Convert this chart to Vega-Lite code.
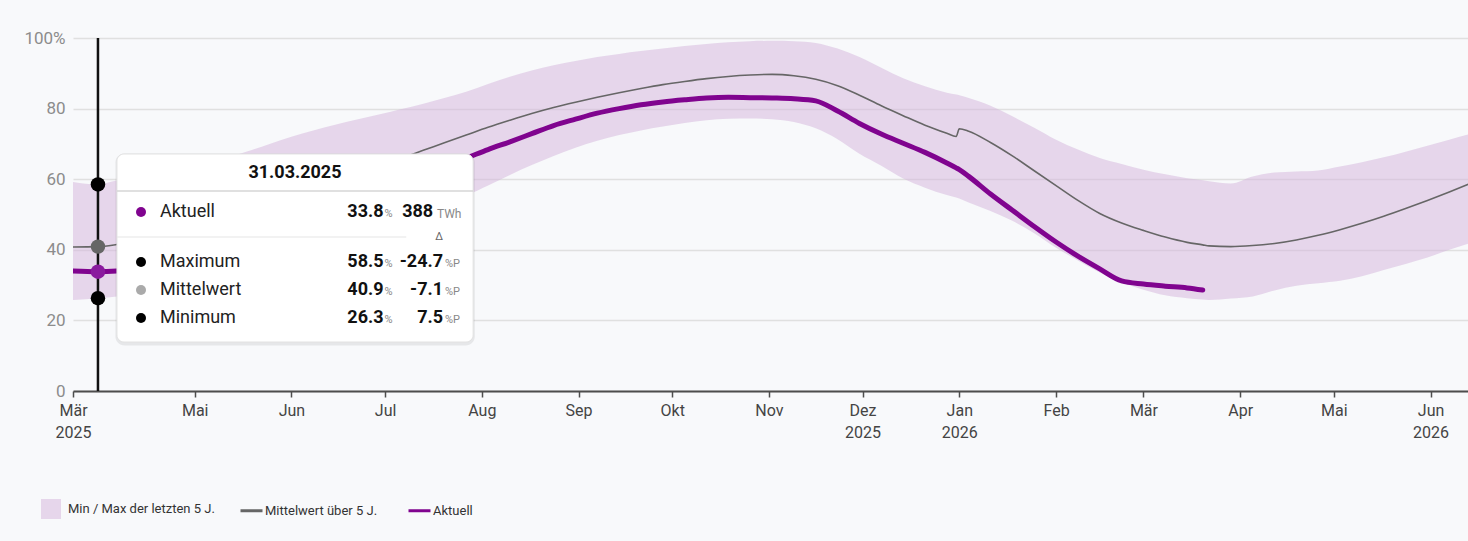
{
  "$schema": "https://vega.github.io/schema/vega-lite/v6.json",
  "width": 1395,
  "height": 353,
  "autosize": {"type": "none"},
  "padding": {"left": 73, "top": 38, "right": 0, "bottom": 150},
  "background": "#f8f9fb",
  "config": {
    "font": "Roboto",
    "view": {"stroke": null},
    "axisX": {"title": null, "grid": false, "domainColor": "#4d4d4d", "domainWidth": 2, "tickColor": "#4d4d4d", "tickWidth": 1.5, "tickSize": 6, "labelFontSize": 16, "labelColor": "#444444", "labelPadding": 5, "labelLineHeight": 22, "labelFlush": false, "labelOverlap": false, "labelBound": false},
    "axisY": {"title": null, "domain": false, "ticks": false, "gridColor": "#e0e0e0", "gridWidth": 1.5, "labelFontSize": 17, "labelColor": "#8c8c8c", "labelPadding": 8},
    "legend": {"labelFont": "Roboto", "labelFontSize": 13, "labelColor": "#333333", "labelOffset": 5, "columnPadding": 27}
  },
  "datasets": {
    "series": [
      {"date": "2025-03-23", "min": 25.8, "max": 59.2, "mean": 40.8, "cur": 34.0},
      {"date": "2025-03-31", "min": 26.3, "max": 58.5, "mean": 40.9, "cur": 33.8},
      {"date": "2025-04-06", "min": 26.8, "max": 59.6, "mean": 41.5, "cur": 34.0},
      {"date": "2025-04-13", "min": 27.5, "max": 60.4, "mean": 42.6, "cur": 34.6},
      {"date": "2025-04-20", "min": 28.5, "max": 61.4, "mean": 44.0, "cur": 35.6},
      {"date": "2025-04-27", "min": 30.0, "max": 62.6, "mean": 45.6, "cur": 37.0},
      {"date": "2025-05-04", "min": 31.8, "max": 64.2, "mean": 47.4, "cur": 38.7},
      {"date": "2025-05-11", "min": 33.8, "max": 66.0, "mean": 49.3, "cur": 40.6},
      {"date": "2025-05-18", "min": 35.8, "max": 67.9, "mean": 51.3, "cur": 42.6},
      {"date": "2025-05-25", "min": 37.8, "max": 70.0, "mean": 53.3, "cur": 44.8},
      {"date": "2025-06-01", "min": 39.8, "max": 72.0, "mean": 55.4, "cur": 47.2},
      {"date": "2025-06-08", "min": 41.8, "max": 73.8, "mean": 57.5, "cur": 49.6},
      {"date": "2025-06-15", "min": 43.8, "max": 75.4, "mean": 59.6, "cur": 52.0},
      {"date": "2025-06-22", "min": 45.8, "max": 76.9, "mean": 61.7, "cur": 54.4},
      {"date": "2025-06-29", "min": 47.8, "max": 78.3, "mean": 63.8, "cur": 56.8},
      {"date": "2025-07-06", "min": 49.6, "max": 79.8, "mean": 65.9, "cur": 59.1},
      {"date": "2025-07-13", "min": 51.4, "max": 81.3, "mean": 68.1, "cur": 61.4},
      {"date": "2025-07-20", "min": 53.3, "max": 83.0, "mean": 70.3, "cur": 63.7},
      {"date": "2025-07-27", "min": 55.4, "max": 84.8, "mean": 72.5, "cur": 66.0},
      {"date": "2025-08-03", "min": 58.2, "max": 87.0, "mean": 74.7, "cur": 68.4},
      {"date": "2025-08-10", "min": 61.2, "max": 89.0, "mean": 76.7, "cur": 70.6},
      {"date": "2025-08-17", "min": 64.0, "max": 90.8, "mean": 78.6, "cur": 72.9},
      {"date": "2025-08-24", "min": 66.6, "max": 92.3, "mean": 80.3, "cur": 75.2},
      {"date": "2025-08-31", "min": 68.9, "max": 93.5, "mean": 81.8, "cur": 77.0},
      {"date": "2025-09-07", "min": 70.9, "max": 94.6, "mean": 83.2, "cur": 78.7},
      {"date": "2025-09-14", "min": 72.5, "max": 95.5, "mean": 84.5, "cur": 80.0},
      {"date": "2025-09-21", "min": 73.8, "max": 96.3, "mean": 85.7, "cur": 81.1},
      {"date": "2025-09-28", "min": 74.9, "max": 97.0, "mean": 86.8, "cur": 81.9},
      {"date": "2025-10-05", "min": 75.9, "max": 97.7, "mean": 87.7, "cur": 82.5},
      {"date": "2025-10-12", "min": 76.7, "max": 98.3, "mean": 88.5, "cur": 83.0},
      {"date": "2025-10-19", "min": 77.1, "max": 98.8, "mean": 89.1, "cur": 83.2},
      {"date": "2025-10-26", "min": 77.2, "max": 99.1, "mean": 89.5, "cur": 83.1},
      {"date": "2025-11-02", "min": 77.0, "max": 99.2, "mean": 89.7, "cur": 83.0},
      {"date": "2025-11-09", "min": 76.2, "max": 99.1, "mean": 89.3, "cur": 82.8},
      {"date": "2025-11-16", "min": 74.4, "max": 98.6, "mean": 88.3, "cur": 82.2},
      {"date": "2025-11-23", "min": 71.3, "max": 97.0, "mean": 86.5, "cur": 79.3},
      {"date": "2025-11-30", "min": 67.2, "max": 94.6, "mean": 83.8, "cur": 75.8},
      {"date": "2025-12-07", "min": 63.8, "max": 91.6, "mean": 80.8, "cur": 72.8},
      {"date": "2025-12-14", "min": 60.2, "max": 88.6, "mean": 78.0, "cur": 70.2},
      {"date": "2025-12-21", "min": 57.6, "max": 86.3, "mean": 75.3, "cur": 67.6},
      {"date": "2025-12-28", "min": 55.5, "max": 84.5, "mean": 73.0, "cur": 64.6},
      {"date": "2025-12-31", "min": 54.8, "max": 84.0, "mean": 72.1, "cur": 63.2},
      {"date": "2026-01-01", "min": 54.5, "max": 83.8, "mean": 74.3, "cur": 62.7},
      {"date": "2026-01-04", "min": 53.4, "max": 83.0, "mean": 73.6, "cur": 60.8},
      {"date": "2026-01-11", "min": 51.0, "max": 80.8, "mean": 70.4, "cur": 55.8},
      {"date": "2026-01-18", "min": 48.2, "max": 77.8, "mean": 66.6, "cur": 51.2},
      {"date": "2026-01-25", "min": 44.7, "max": 74.6, "mean": 62.4, "cur": 46.6},
      {"date": "2026-02-01", "min": 40.6, "max": 71.2, "mean": 58.2, "cur": 42.2},
      {"date": "2026-02-08", "min": 37.0, "max": 68.4, "mean": 54.0, "cur": 38.2},
      {"date": "2026-02-15", "min": 33.6, "max": 66.0, "mean": 50.3, "cur": 34.6},
      {"date": "2026-02-22", "min": 30.8, "max": 64.3, "mean": 47.6, "cur": 31.2},
      {"date": "2026-03-01", "min": 28.7, "max": 62.7, "mean": 45.5, "cur": 30.3},
      {"date": "2026-03-08", "min": 27.1, "max": 61.4, "mean": 43.6, "cur": 29.7},
      {"date": "2026-03-15", "min": 26.3, "max": 60.3, "mean": 42.1, "cur": 29.2},
      {"date": "2026-03-20", "min": 25.9, "max": 59.7, "mean": 41.4, "cur": 28.6},
      {"date": "2026-03-22", "min": 25.8, "max": 59.4, "mean": 41.1},
      {"date": "2026-03-29", "min": 26.2, "max": 58.8, "mean": 40.9},
      {"date": "2026-04-05", "min": 26.8, "max": 60.8, "mean": 41.2},
      {"date": "2026-04-12", "min": 28.5, "max": 61.9, "mean": 41.8},
      {"date": "2026-04-19", "min": 29.8, "max": 62.2, "mean": 42.8},
      {"date": "2026-04-26", "min": 30.5, "max": 62.5, "mean": 44.1},
      {"date": "2026-05-03", "min": 31.2, "max": 63.6, "mean": 45.7},
      {"date": "2026-05-10", "min": 32.5, "max": 64.8, "mean": 47.5},
      {"date": "2026-05-17", "min": 34.3, "max": 66.2, "mean": 49.5},
      {"date": "2026-05-24", "min": 36.0, "max": 67.8, "mean": 51.7},
      {"date": "2026-05-31", "min": 37.8, "max": 69.5, "mean": 54.0},
      {"date": "2026-06-07", "min": 40.0, "max": 71.2, "mean": 56.4},
      {"date": "2026-06-14", "min": 42.0, "max": 72.9, "mean": 58.9}
    ],
    "hover": [
      {"date": "2025-03-31", "day": "31.03.2025", "cur": 33.8, "max": 58.5, "mean": 40.9, "min": 26.3, "twh": 388, "dmax": -24.7, "dmean": -7.1, "dmin": 7.5}
    ]
  },
  "data": {"name": "series"},
  "layer": [
    {
      "mark": {"type": "area", "opacity": 0.5, "interpolate": "monotone", "clip": true},
      "encoding": {
        "x": {"field": "date", "type": "temporal", "title": null,
          "scale": {"type": "utc", "domain": [{"year": 2025, "month": 3, "date": 23, "utc": true}, {"year": 2026, "month": 6, "date": 13, "utc": true}]},
          "axis": {
            "values": [
              {"year": 2025, "month": 3, "date": 23, "utc": true},
              {"year": 2025, "month": 5, "date": 1, "utc": true},
              {"year": 2025, "month": 6, "date": 1, "utc": true},
              {"year": 2025, "month": 7, "date": 1, "utc": true},
              {"year": 2025, "month": 8, "date": 1, "utc": true},
              {"year": 2025, "month": 9, "date": 1, "utc": true},
              {"year": 2025, "month": 10, "date": 1, "utc": true},
              {"year": 2025, "month": 11, "date": 1, "utc": true},
              {"year": 2025, "month": 12, "date": 1, "utc": true},
              {"year": 2026, "month": 1, "date": 1, "utc": true},
              {"year": 2026, "month": 2, "date": 1, "utc": true},
              {"year": 2026, "month": 3, "date": 1, "utc": true},
              {"year": 2026, "month": 4, "date": 1, "utc": true},
              {"year": 2026, "month": 5, "date": 1, "utc": true},
              {"year": 2026, "month": 6, "date": 1, "utc": true}
            ],
            "labelExpr": "[['Jan','Feb','Mär','Apr','Mai','Jun','Jul','Aug','Sep','Okt','Nov','Dez'][utcmonth(datum.value)], (utcmonth(datum.value) == 11 || utcmonth(datum.value) == 0 || (utcyear(datum.value) == 2025 && utcmonth(datum.value) == 2) || (utcyear(datum.value) == 2026 && utcmonth(datum.value) == 5)) ? '' + utcyear(datum.value) : '']"
          }
        },
        "y": {"field": "max", "type": "quantitative", "title": null,
          "scale": {"domain": [0, 100], "nice": false},
          "axis": {"values": [0, 20, 40, 60, 80, 100], "labelExpr": "datum.value == 100 ? '100%' : datum.label"}
        },
        "y2": {"field": "min"},
        "fill": {
          "datum": "Min / Max der letzten 5 J.", "type": "nominal",
          "scale": {"domain": ["Min / Max der letzten 5 J."], "range": ["#d3b3dc"]},
          "legend": {"orient": "none", "legendX": -33, "legendY": 460, "title": null, "symbolType": "square", "symbolSize": 400, "labelOffset": 6}
        }
      }
    },
    {
      "mark": {"type": "line", "strokeWidth": 1.6, "interpolate": "monotone", "clip": true},
      "encoding": {
        "x": {"field": "date", "type": "temporal", "title": null},
        "y": {"field": "mean", "type": "quantitative", "title": null},
        "stroke": {
          "datum": "Mittelwert über 5 J.", "type": "nominal",
          "scale": {"domain": ["Mittelwert über 5 J.", "Aktuell"], "range": ["#666666", "#80048f"]},
          "legend": {"orient": "none", "legendX": 166, "legendY": 460, "direction": "horizontal", "title": null, "symbolType": "stroke", "symbolSize": 484, "symbolStrokeWidth": 3, "labelOffset": 1, "columnPadding": 24}
        }
      }
    },
    {
      "mark": {"type": "line", "strokeWidth": 5, "strokeCap": "round", "strokeJoin": "round", "interpolate": "monotone", "clip": true},
      "encoding": {
        "x": {"field": "date", "type": "temporal", "title": null},
        "y": {"field": "cur", "type": "quantitative", "title": null},
        "stroke": {"datum": "Aktuell", "type": "nominal"}
      }
    },
    {
      "data": {"name": "hover"},
      "mark": {"type": "rule", "color": "#111111", "strokeWidth": 2.5},
      "encoding": {"x": {"field": "date", "type": "temporal", "title": null}}
    },
    {
      "data": {"name": "hover"},
      "mark": {"type": "circle", "size": 210, "opacity": 1, "color": "#000000"},
      "encoding": {"x": {"field": "date", "type": "temporal", "title": null}, "y": {"field": "max", "type": "quantitative", "title": null}}
    },
    {
      "data": {"name": "hover"},
      "mark": {"type": "circle", "size": 210, "opacity": 1, "color": "#666666"},
      "encoding": {"x": {"field": "date", "type": "temporal", "title": null}, "y": {"field": "mean", "type": "quantitative", "title": null}}
    },
    {
      "data": {"name": "hover"},
      "mark": {"type": "circle", "size": 210, "opacity": 1, "color": "#000000"},
      "encoding": {"x": {"field": "date", "type": "temporal", "title": null}, "y": {"field": "min", "type": "quantitative", "title": null}}
    },
    {
      "data": {"name": "hover"},
      "mark": {"type": "circle", "size": 210, "opacity": 1, "color": "#8a1a9e"},
      "encoding": {"x": {"field": "date", "type": "temporal", "title": null}, "y": {"field": "cur", "type": "quantitative", "title": null}}
    },
    {
      "data": {"name": "hover"},
      "mark": {"type": "rect", "fill": "#000000", "opacity": 0.07, "cornerRadius": 9},
      "encoding": {
        "x": {"datum": {"year": 2025, "month": 4, "date": 5, "hours": 14, "utc": true}, "type": "temporal", "title": null},
        "x2": {"datum": {"year": 2025, "month": 7, "date": 29, "hours": 18, "utc": true}},
        "y": {"datum": 67.3, "type": "quantitative", "title": null},
        "y2": {"datum": 12.9}
      }
    },
    {
      "data": {"name": "hover"},
      "mark": {"type": "rect", "fill": "#ffffff", "stroke": "#e2e2e2", "strokeWidth": 1, "cornerRadius": 7},
      "encoding": {
        "x": {"datum": {"year": 2025, "month": 4, "date": 6, "hours": 2, "utc": true}, "type": "temporal", "title": null},
        "x2": {"datum": {"year": 2025, "month": 7, "date": 29, "hours": 5, "utc": true}},
        "y": {"datum": 67.14, "type": "quantitative", "title": null},
        "y2": {"datum": 13.88}
      }
    },
    {
      "data": {"name": "hover"},
      "mark": {"type": "rule", "color": "#d6d6d6", "strokeWidth": 1.5},
      "encoding": {
        "x": {"datum": {"year": 2025, "month": 4, "date": 6, "hours": 2, "utc": true}, "type": "temporal", "title": null},
        "x2": {"datum": {"year": 2025, "month": 7, "date": 29, "hours": 5, "utc": true}},
        "y": {"datum": 56.66, "type": "quantitative", "title": null}
      }
    },
    {
      "data": {"name": "hover"},
      "mark": {"type": "rule", "color": "#e6e6e6", "strokeWidth": 1.2},
      "encoding": {
        "x": {"datum": {"year": 2025, "month": 4, "date": 6, "hours": 2, "utc": true}, "type": "temporal", "title": null},
        "x2": {"datum": {"year": 2025, "month": 7, "date": 7, "hours": 19, "utc": true}},
        "y": {"datum": 43.63, "type": "quantitative", "title": null}
      }
    },
    {
      "data": {"name": "hover"},
      "mark": {"type": "text", "align": "center", "baseline": "middle", "fontSize": 18, "fontWeight": "bold", "color": "#111111"},
      "encoding": {
        "x": {"datum": {"year": 2025, "month": 6, "date": 2, "hours": 3, "utc": true}, "type": "temporal", "title": null},
        "y": {"datum": 61.76, "type": "quantitative", "title": null},
        "text": {"field": "day", "type": "nominal"}
      }
    },
    {
      "data": {"name": "hover"},
      "mark": {"type": "circle", "size": 100, "opacity": 1, "color": "#80048f"},
      "encoding": {
        "x": {"datum": {"year": 2025, "month": 4, "date": 13, "hours": 19, "utc": true}, "type": "temporal", "title": null},
        "y": {"datum": 50.71, "type": "quantitative", "title": null}
      }
    },
    {
      "data": {"name": "hover"},
      "mark": {"type": "circle", "size": 100, "opacity": 1, "color": "#000000"},
      "encoding": {
        "x": {"datum": {"year": 2025, "month": 4, "date": 13, "hours": 19, "utc": true}, "type": "temporal", "title": null},
        "y": {"datum": 36.54, "type": "quantitative", "title": null}
      }
    },
    {
      "data": {"name": "hover"},
      "mark": {"type": "circle", "size": 100, "opacity": 1, "color": "#aaaaaa"},
      "encoding": {
        "x": {"datum": {"year": 2025, "month": 4, "date": 13, "hours": 19, "utc": true}, "type": "temporal", "title": null},
        "y": {"datum": 28.61, "type": "quantitative", "title": null}
      }
    },
    {
      "data": {"name": "hover"},
      "mark": {"type": "circle", "size": 100, "opacity": 1, "color": "#000000"},
      "encoding": {
        "x": {"datum": {"year": 2025, "month": 4, "date": 13, "hours": 19, "utc": true}, "type": "temporal", "title": null},
        "y": {"datum": 20.68, "type": "quantitative", "title": null}
      }
    },
    {
      "data": {"name": "hover"},
      "mark": {"type": "text", "align": "left", "baseline": "middle", "fontSize": 18, "color": "#222222", "text": "Aktuell"},
      "encoding": {
        "x": {"datum": {"year": 2025, "month": 4, "date": 19, "hours": 21, "utc": true}, "type": "temporal", "title": null},
        "y": {"datum": 50.71, "type": "quantitative", "title": null}
      }
    },
    {
      "data": {"name": "hover"},
      "mark": {"type": "text", "align": "left", "baseline": "middle", "fontSize": 18, "color": "#222222", "text": "Maximum"},
      "encoding": {
        "x": {"datum": {"year": 2025, "month": 4, "date": 19, "hours": 21, "utc": true}, "type": "temporal", "title": null},
        "y": {"datum": 36.54, "type": "quantitative", "title": null}
      }
    },
    {
      "data": {"name": "hover"},
      "mark": {"type": "text", "align": "left", "baseline": "middle", "fontSize": 18, "color": "#222222", "text": "Mittelwert"},
      "encoding": {
        "x": {"datum": {"year": 2025, "month": 4, "date": 19, "hours": 21, "utc": true}, "type": "temporal", "title": null},
        "y": {"datum": 28.61, "type": "quantitative", "title": null}
      }
    },
    {
      "data": {"name": "hover"},
      "mark": {"type": "text", "align": "left", "baseline": "middle", "fontSize": 18, "color": "#222222", "text": "Minimum"},
      "encoding": {
        "x": {"datum": {"year": 2025, "month": 4, "date": 19, "hours": 21, "utc": true}, "type": "temporal", "title": null},
        "y": {"datum": 20.68, "type": "quantitative", "title": null}
      }
    },
    {
      "data": {"name": "hover"},
      "mark": {"type": "text", "align": "right", "baseline": "middle", "fontSize": 18, "fontWeight": "bold", "color": "#111111"},
      "encoding": {
        "x": {"datum": {"year": 2025, "month": 6, "date": 30, "hours": 12, "utc": true}, "type": "temporal", "title": null},
        "y": {"datum": 50.71, "type": "quantitative", "title": null},
        "text": {"field": "cur", "type": "nominal"}
      }
    },
    {
      "data": {"name": "hover"},
      "mark": {"type": "text", "align": "right", "baseline": "middle", "fontSize": 18, "fontWeight": "bold", "color": "#111111"},
      "encoding": {
        "x": {"datum": {"year": 2025, "month": 6, "date": 30, "hours": 12, "utc": true}, "type": "temporal", "title": null},
        "y": {"datum": 36.54, "type": "quantitative", "title": null},
        "text": {"field": "max", "type": "nominal"}
      }
    },
    {
      "data": {"name": "hover"},
      "mark": {"type": "text", "align": "right", "baseline": "middle", "fontSize": 18, "fontWeight": "bold", "color": "#111111"},
      "encoding": {
        "x": {"datum": {"year": 2025, "month": 6, "date": 30, "hours": 12, "utc": true}, "type": "temporal", "title": null},
        "y": {"datum": 28.61, "type": "quantitative", "title": null},
        "text": {"field": "mean", "type": "nominal"}
      }
    },
    {
      "data": {"name": "hover"},
      "mark": {"type": "text", "align": "right", "baseline": "middle", "fontSize": 18, "fontWeight": "bold", "color": "#111111"},
      "encoding": {
        "x": {"datum": {"year": 2025, "month": 6, "date": 30, "hours": 12, "utc": true}, "type": "temporal", "title": null},
        "y": {"datum": 20.68, "type": "quantitative", "title": null},
        "text": {"field": "min", "type": "nominal"}
      }
    },
    {
      "data": {"name": "hover"},
      "mark": {"type": "text", "align": "left", "baseline": "middle", "fontSize": 11, "color": "#888888", "text": "%"},
      "encoding": {
        "x": {"datum": {"year": 2025, "month": 6, "date": 30, "hours": 20, "utc": true}, "type": "temporal", "title": null},
        "y": {"datum": 50.15, "type": "quantitative", "title": null}
      }
    },
    {
      "data": {"name": "hover"},
      "mark": {"type": "text", "align": "left", "baseline": "middle", "fontSize": 11, "color": "#888888", "text": "%"},
      "encoding": {
        "x": {"datum": {"year": 2025, "month": 6, "date": 30, "hours": 20, "utc": true}, "type": "temporal", "title": null},
        "y": {"datum": 35.98, "type": "quantitative", "title": null}
      }
    },
    {
      "data": {"name": "hover"},
      "mark": {"type": "text", "align": "left", "baseline": "middle", "fontSize": 11, "color": "#888888", "text": "%"},
      "encoding": {
        "x": {"datum": {"year": 2025, "month": 6, "date": 30, "hours": 20, "utc": true}, "type": "temporal", "title": null},
        "y": {"datum": 28.05, "type": "quantitative", "title": null}
      }
    },
    {
      "data": {"name": "hover"},
      "mark": {"type": "text", "align": "left", "baseline": "middle", "fontSize": 11, "color": "#888888", "text": "%"},
      "encoding": {
        "x": {"datum": {"year": 2025, "month": 6, "date": 30, "hours": 20, "utc": true}, "type": "temporal", "title": null},
        "y": {"datum": 20.12, "type": "quantitative", "title": null}
      }
    },
    {
      "data": {"name": "hover"},
      "mark": {"type": "text", "align": "right", "baseline": "middle", "fontSize": 18, "fontWeight": "bold", "color": "#111111"},
      "encoding": {
        "x": {"datum": {"year": 2025, "month": 7, "date": 16, "hours": 10, "utc": true}, "type": "temporal", "title": null},
        "y": {"datum": 50.71, "type": "quantitative", "title": null},
        "text": {"field": "twh", "type": "nominal"}
      }
    },
    {
      "data": {"name": "hover"},
      "mark": {"type": "text", "align": "left", "baseline": "middle", "fontSize": 12, "color": "#888888", "text": "TWh"},
      "encoding": {
        "x": {"datum": {"year": 2025, "month": 7, "date": 17, "hours": 15, "utc": true}, "type": "temporal", "title": null},
        "y": {"datum": 50.2, "type": "quantitative", "title": null}
      }
    },
    {
      "data": {"name": "hover"},
      "mark": {"type": "text", "align": "center", "baseline": "middle", "fontSize": 11, "color": "#666666", "text": "Δ"},
      "encoding": {
        "x": {"datum": {"year": 2025, "month": 7, "date": 18, "hours": 7, "utc": true}, "type": "temporal", "title": null},
        "y": {"datum": 43.63, "type": "quantitative", "title": null}
      }
    },
    {
      "data": {"name": "hover"},
      "mark": {"type": "text", "align": "right", "baseline": "middle", "fontSize": 18, "fontWeight": "bold", "color": "#111111"},
      "encoding": {
        "x": {"datum": {"year": 2025, "month": 7, "date": 19, "hours": 14, "utc": true}, "type": "temporal", "title": null},
        "y": {"datum": 36.54, "type": "quantitative", "title": null},
        "text": {"field": "dmax", "type": "nominal"}
      }
    },
    {
      "data": {"name": "hover"},
      "mark": {"type": "text", "align": "right", "baseline": "middle", "fontSize": 18, "fontWeight": "bold", "color": "#111111"},
      "encoding": {
        "x": {"datum": {"year": 2025, "month": 7, "date": 19, "hours": 14, "utc": true}, "type": "temporal", "title": null},
        "y": {"datum": 28.61, "type": "quantitative", "title": null},
        "text": {"field": "dmean", "type": "nominal"}
      }
    },
    {
      "data": {"name": "hover"},
      "mark": {"type": "text", "align": "right", "baseline": "middle", "fontSize": 18, "fontWeight": "bold", "color": "#111111"},
      "encoding": {
        "x": {"datum": {"year": 2025, "month": 7, "date": 19, "hours": 14, "utc": true}, "type": "temporal", "title": null},
        "y": {"datum": 20.68, "type": "quantitative", "title": null},
        "text": {"field": "dmin", "type": "nominal"}
      }
    },
    {
      "data": {"name": "hover"},
      "mark": {"type": "text", "align": "left", "baseline": "middle", "fontSize": 11, "color": "#888888", "text": "%P"},
      "encoding": {
        "x": {"datum": {"year": 2025, "month": 7, "date": 20, "hours": 5, "utc": true}, "type": "temporal", "title": null},
        "y": {"datum": 36.0, "type": "quantitative", "title": null}
      }
    },
    {
      "data": {"name": "hover"},
      "mark": {"type": "text", "align": "left", "baseline": "middle", "fontSize": 11, "color": "#888888", "text": "%P"},
      "encoding": {
        "x": {"datum": {"year": 2025, "month": 7, "date": 20, "hours": 5, "utc": true}, "type": "temporal", "title": null},
        "y": {"datum": 28.05, "type": "quantitative", "title": null}
      }
    },
    {
      "data": {"name": "hover"},
      "mark": {"type": "text", "align": "left", "baseline": "middle", "fontSize": 11, "color": "#888888", "text": "%P"},
      "encoding": {
        "x": {"datum": {"year": 2025, "month": 7, "date": 20, "hours": 5, "utc": true}, "type": "temporal", "title": null},
        "y": {"datum": 20.1, "type": "quantitative", "title": null}
      }
    }
  ]
}
